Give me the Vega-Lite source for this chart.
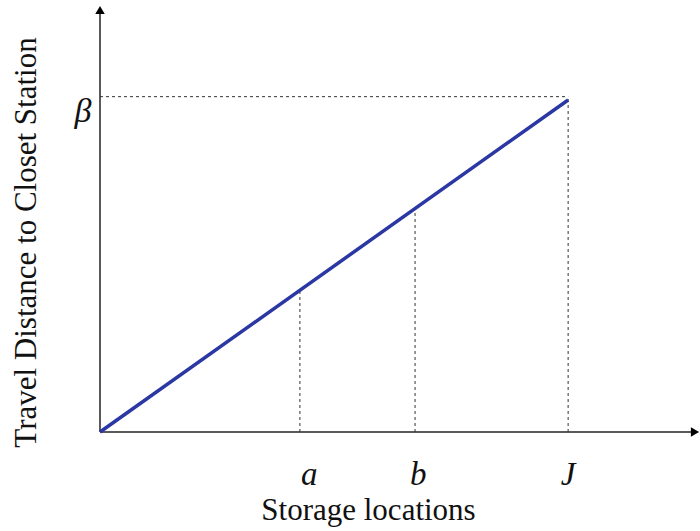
{
  "$schema": "https://vega.github.io/schema/vega-lite/v6.json",
  "width": 595,
  "height": 422,
  "autosize": {"type": "none"},
  "padding": {"left": 100, "top": 10, "right": 5, "bottom": 99},
  "background": "white",
  "config": {"view": {"stroke": null}},
  "layer": [
    {
      "data": {"values": [
        {"x": 0, "y": 0, "x2": 1.271, "y2": 0},
        {"x": 0, "y": 0, "x2": 0, "y2": 1.271}
      ]},
      "mark": {"type": "rule", "color": "#5a5a5a", "strokeWidth": 2},
      "encoding": {
        "x": {"field": "x", "type": "quantitative", "scale": {"domain": [0, 1.271], "nice": false, "zero": false},
          "axis": {"domain": false, "ticks": false, "labels": false, "grid": false,
            "title": "Storage locations", "titleFont": "Liberation Serif", "titleFontSize": 31,
            "titleFontWeight": "normal", "titleColor": "#111", "titleX": 268, "titleY": 87,
            "titleAlign": "center", "titleBaseline": "alphabetic"}},
        "y": {"field": "y", "type": "quantitative", "scale": {"domain": [0, 1.271], "nice": false, "zero": false},
          "axis": {"domain": false, "ticks": false, "labels": false, "grid": false,
            "title": "Travel Distance to Closet Station", "titleFont": "Liberation Serif", "titleFontSize": 31,
            "titleFontWeight": "normal", "titleColor": "#111", "titleX": -65, "titleY": 232,
            "titleAngle": -90, "titleAlign": "center", "titleBaseline": "alphabetic"}},
        "x2": {"field": "x2"},
        "y2": {"field": "y2"}
      }
    },
    {
      "data": {"values": [
        {"x": 1.271, "y": 0, "shape": "triangle-right"},
        {"x": 0, "y": 1.271, "shape": "triangle-up"}
      ]},
      "mark": {"type": "point", "filled": true, "color": "#000", "size": 90, "opacity": 1},
      "encoding": {
        "x": {"field": "x", "type": "quantitative"},
        "y": {"field": "y", "type": "quantitative"},
        "shape": {"field": "shape", "type": "nominal", "scale": null}
      }
    },
    {
      "data": {"values": [
        {"x": 0.427, "y": 0, "x2": 0.427, "y2": 0.427},
        {"x": 0.673, "y": 0, "x2": 0.673, "y2": 0.673},
        {"x": 1, "y": 0, "x2": 1, "y2": 1.01},
        {"x": 0, "y": 1.01, "x2": 1, "y2": 1.01}
      ]},
      "mark": {"type": "rule", "color": "#333", "strokeWidth": 1, "strokeDash": [3, 3]},
      "encoding": {
        "x": {"field": "x", "type": "quantitative"},
        "y": {"field": "y", "type": "quantitative"},
        "x2": {"field": "x2"},
        "y2": {"field": "y2"}
      }
    },
    {
      "data": {"values": [{"x": 0, "y": 0}, {"x": 1, "y": 1}]},
      "mark": {"type": "line", "color": "#2b37a3", "strokeWidth": 3.5},
      "encoding": {
        "x": {"field": "x", "type": "quantitative"},
        "y": {"field": "y", "type": "quantitative"}
      }
    },
    {
      "data": {"values": [
        {"x": 0.447, "label": "a"},
        {"x": 0.68, "label": "b"},
        {"x": 1, "label": "J"}
      ]},
      "mark": {"type": "text", "font": "Liberation Serif", "fontStyle": "italic", "fontSize": 33, "color": "#111", "baseline": "alphabetic", "dy": 53},
      "encoding": {
        "x": {"field": "x", "type": "quantitative"},
        "y": {"datum": 0, "type": "quantitative"},
        "text": {"field": "label"}
      }
    },
    {
      "data": {"values": [{"x": 0, "y": 1, "label": "β"}]},
      "mark": {"type": "text", "font": "Liberation Serif", "fontStyle": "italic", "fontSize": 34, "color": "#111", "baseline": "middle", "dx": -17, "dy": 12},
      "encoding": {
        "x": {"field": "x", "type": "quantitative"},
        "y": {"field": "y", "type": "quantitative"},
        "text": {"field": "label"}
      }
    }
  ]
}
